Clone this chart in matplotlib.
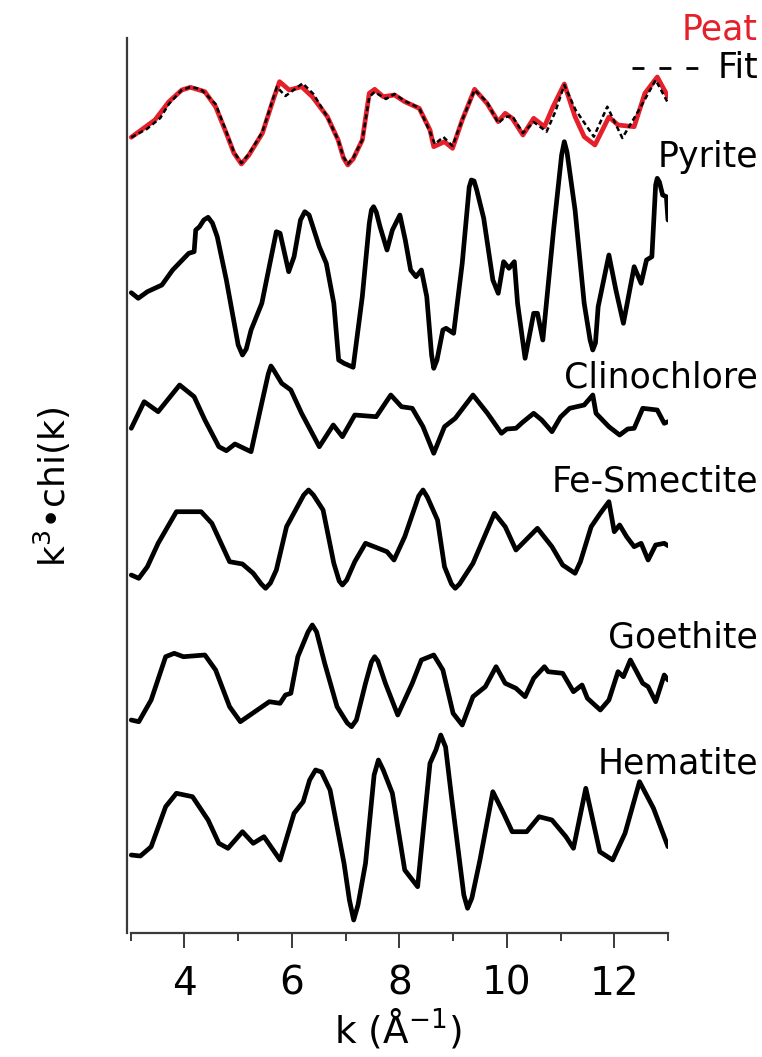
import numpy as np
import matplotlib
matplotlib.use("Agg")
import matplotlib.pyplot as plt
from matplotlib.lines import Line2D

# k (1/A) and k^3 chi(k) values (arbitrary units, relative to each trace's baseline)
peat_k = [3.01, 3.45, 3.71, 3.95, 4.11, 4.38, 4.58, 4.78, 4.92, 5.06, 5.2, 5.45, 5.65, 5.77, 5.95,
          6.18, 6.38, 6.66, 6.86, 6.96, 7.04, 7.14, 7.31, 7.44, 7.54, 7.7, 7.91, 8.1, 8.37, 8.57,
          8.64, 8.84, 8.99, 9.17, 9.4, 9.63, 9.84, 9.97, 10.1, 10.3, 10.5, 10.7, 10.86, 11.07,
          11.27, 11.44, 11.64, 11.9, 12.07, 12.37, 12.57, 12.8, 13.0]
peat_chi = [-1.73, 0.0, 1.83, 3.0, 3.27, 2.83, 1.33, -1.33, -3.3, -4.4, -3.5, -1.33, 2.0, 3.83, 3.0,
            3.33, 2.33, 0.33, -2.0, -3.8, -4.5, -3.9, -2.0, 2.67, 3.07, 2.33, 2.5, 1.83, 1.17, -1.0,
            -2.67, -2.17, -2.83, 0.0, 3.07, 1.67, -0.17, 0.67, 0.17, -1.5, 0.17, -0.67, 1.33, 3.6,
            0.33, -1.67, -2.5, 0.3, -0.5, -0.67, 2.67, 4.3, 2.33]

fit_k = [3.01, 3.3, 3.55, 3.71, 3.95, 4.11, 4.3, 4.58, 4.78, 4.92, 5.06, 5.2, 5.45, 5.72, 5.88,
         6.2, 6.4, 6.66, 6.86, 6.96, 7.04, 7.14, 7.31, 7.44, 7.54, 7.75, 7.91, 8.1, 8.37, 8.57,
         8.66, 8.82, 8.99, 9.17, 9.4, 9.63, 9.84, 9.97, 10.1, 10.3, 10.5, 10.74, 10.9, 11.07,
         11.28, 11.62, 11.87, 12.15, 12.46, 12.77, 13.0]
fit_chi = [-1.73, -0.9, 0.2, 1.6, 3.0, 3.3, 3.1, 1.6, -1.2, -3.2, -4.3, -3.4, -1.2, 3.3, 2.4,
           3.67, 2.6, 0.3, -2.0, -3.7, -4.4, -3.8, -2.0, 2.3, 2.8, 2.1, 2.6, 1.9, 1.2, -1.2,
           -2.4, -1.7, -2.6, 0.0, 3.0, 1.8, -0.3, 0.3, 0.4, -1.3, -0.2, -1.17, 0.8, 3.5,
           1.0, -1.67, 1.33, -1.8, 1.0, 4.0, 1.7]

pyrite_k = [3.01, 3.14, 3.31, 3.58, 3.78, 4.08, 4.18, 4.21, 4.28, 4.36, 4.44, 4.52, 4.61, 4.78,
            5.0, 5.08, 5.15, 5.24, 5.44, 5.71, 5.78, 5.94, 6.04, 6.16, 6.24, 6.32, 6.41, 6.51,
            6.64, 6.78, 6.87, 6.97, 7.14, 7.31, 7.44, 7.48, 7.52, 7.57, 7.64, 7.77, 7.87, 8.01,
            8.11, 8.21, 8.31, 8.41, 8.51, 8.6, 8.64, 8.7, 8.81, 8.87, 9.01, 9.17, 9.3, 9.34,
            9.39, 9.44, 9.57, 9.74, 9.84, 9.94, 10.04, 10.14, 10.2, 10.34, 10.5, 10.57, 10.67,
            10.87, 11.02, 11.07, 11.12, 11.27, 11.44, 11.55, 11.6, 11.65, 11.7, 11.9, 12.03,
            12.17, 12.37, 12.5, 12.6, 12.7, 12.77, 12.8, 12.84, 12.9, 12.97, 13.0]
pyrite_chi = [-1.27, -1.83, -1.17, -0.5, 1.0, 2.67, 2.83, 5.0, 5.33, 6.0, 6.27, 5.7, 4.33, 0.0,
              -6.5, -7.5, -6.9, -5.0, -2.33, 4.83, 4.67, 0.83, 2.33, 6.0, 6.83, 6.5, 5.0, 3.33,
              1.67, -2.33, -8.0, -8.33, -8.73, -1.67, 5.67, 7.0, 7.33, 6.8, 5.33, 3.0, 5.0, 6.5,
              4.0, 1.0, 0.33, 1.0, -1.67, -7.5, -8.83, -8.0, -5.0, -4.83, -5.33, 1.67, 9.3, 10.0,
              9.9, 9.0, 6.17, 0.0, -1.33, 1.83, 1.17, 1.83, -2.33, -7.83, -3.33, -3.33, -6.0,
              5.0, 12.5, 13.83, 12.8, 7.0, -2.33, -6.0, -7.0, -6.3, -2.67, 2.5, -1.0,
              -4.33, 1.33, -0.33, 2.0, 2.33, 9.5, 10.17, 9.8, 8.5, 8.33, 6.0]

clino_k = [3.01, 3.25, 3.51, 3.91, 4.18, 4.38, 4.64, 4.78, 4.94, 5.24, 5.41, 5.56, 5.61, 5.66,
           5.81, 5.98, 6.18, 6.51, 6.77, 6.94, 7.17, 7.57, 7.84, 8.04, 8.24, 8.44, 8.64, 8.84,
           9.04, 9.37, 9.64, 9.9, 10.0, 10.17, 10.3, 10.5, 10.65, 10.84, 11.0, 11.17, 11.44,
           11.6, 11.66, 11.9, 12.1, 12.25, 12.37, 12.53, 12.8, 12.93, 13.0]
clino_chi = [-0.83, 1.83, 0.83, 3.5, 2.33, 0.0, -2.67, -3.07, -2.4, -3.17, 1.0, 4.6, 5.4, 5.0,
             3.67, 3.0, 0.67, -2.67, -0.5, -1.67, 0.5, 0.33, 2.5, 1.33, 1.17, -0.67, -3.33, -0.67,
             0.17, 2.5, 0.67, -1.33, -0.9, -0.83, -0.2, 0.67, 0.0, -1.17, 0.3, 1.17, 1.5,
             2.5, 0.67, -0.67, -1.5, -0.9, -0.83, 1.17, 1.0, -0.33, -0.17]

smec_k = [3.01, 3.15, 3.31, 3.51, 3.85, 4.31, 4.51, 4.84, 5.08, 5.28, 5.43, 5.51, 5.6, 5.71,
          5.9, 6.22, 6.31, 6.4, 6.58, 6.78, 6.88, 6.94, 7.02, 7.17, 7.37, 7.77, 7.9, 8.1, 8.36,
          8.44, 8.52, 8.71, 8.84, 8.97, 9.04, 9.12, 9.37, 9.77, 9.97, 10.17, 10.57, 10.84,
          11.04, 11.27, 11.37, 11.57, 11.74, 11.9, 12.0, 12.1, 12.23, 12.37, 12.5, 12.63,
          12.77, 12.93, 13.0]
smec_chi = [-3.0, -3.33, -2.17, 0.17, 3.33, 3.33, 2.17, -1.67, -1.9, -2.83, -3.9, -4.33, -3.8,
            -2.5, 1.83, 5.0, 5.5, 5.0, 3.5, -1.83, -3.6, -4.0, -3.5, -1.67, 0.17, -0.67, -1.5,
            0.83, 4.9, 5.5, 4.8, 2.5, -2.17, -3.9, -4.33, -3.9, -1.83, 3.17, 1.83, -0.5, 1.67,
            -0.17, -2.0, -2.83, -1.67, 1.83, 3.17, 4.33, 1.33, 2.0, 0.83, -0.17, 0.17, -1.5,
            0.0, 0.17, -0.07]

goe_k = [3.01, 3.15, 3.38, 3.65, 3.81, 3.98, 4.38, 4.58, 4.84, 5.04, 5.31, 5.58, 5.78, 5.88,
         5.98, 6.11, 6.3, 6.38, 6.46, 6.61, 6.84, 7.03, 7.11, 7.2, 7.37, 7.48, 7.54, 7.6, 7.74,
         7.97, 8.24, 8.41, 8.64, 8.81, 9.0, 9.17, 9.37, 9.6, 9.8, 9.97, 10.17, 10.34, 10.5,
         10.7, 10.77, 11.04, 11.24, 11.4, 11.5, 11.74, 11.9, 12.07, 12.17, 12.3, 12.53, 12.63,
         12.77, 12.93, 13.0]
goe_chi = [-3.0, -3.17, -1.0, 3.33, 3.67, 3.33, 3.5, 2.0, -1.67, -3.17, -2.17, -1.17, -1.33, -0.5,
           -0.33, 3.33, 5.8, 6.5, 5.8, 2.67, -1.67, -3.3, -3.67, -3.0, 0.67, 2.8, 3.33, 2.9, 0.67,
           -2.5, 0.67, 3.0, 3.5, 2.0, -2.33, -3.5, -0.67, 0.33, 2.33, 0.67, 0.17, -0.67, 1.17,
           2.33, 1.83, 1.67, -0.17, 0.5, -0.83, -2.0, -1.0, 1.83, 1.33, 3.0, 0.67, 0.33,
           -1.17, 1.5, 1.0]

hem_k = [3.01, 3.18, 3.38, 3.65, 3.85, 4.15, 4.44, 4.64, 4.81, 5.08, 5.28, 5.48, 5.78, 6.04,
         6.21, 6.33, 6.44, 6.55, 6.71, 6.97, 7.07, 7.15, 7.23, 7.37, 7.53, 7.61, 7.7, 7.87, 8.1,
         8.34, 8.57, 8.68, 8.77, 8.86, 8.97, 9.2, 9.27, 9.35, 9.5, 9.74, 9.94, 10.1, 10.37,
         10.6, 10.84, 11.1, 11.24, 11.47, 11.73, 11.97, 12.2, 12.47, 12.73, 13.0]
hem_chi = [-1.5, -1.6, -0.67, 3.33, 4.67, 4.33, 2.0, -0.33, -0.83, 0.83, -0.33, 0.33, -2.0, 2.67,
           3.83, 6.0, 7.0, 6.8, 5.0, -2.33, -6.0, -8.0, -6.5, -2.33, 6.5, 8.0, 7.0, 4.67, -3.0,
           -4.67, 7.67, 9.0, 10.5, 9.3, 4.33, -5.5, -6.83, -5.8, -2.0, 4.83, 2.67, 0.83, 0.83,
           2.33, 2.0, 0.33, -0.83, 5.17, -1.17, -2.0, 0.67, 5.83, 3.17, -0.67]

names = ["Pyrite", "Clinochlore", "Fe-Smectite", "Goethite", "Hematite"]
offsets = [65.3, 51.3, 38.8, 24.3, 9.3]
peat_offset = 81.3

ref_k = [pyrite_k, clino_k, smec_k, goe_k, hem_k]
ref_chi = [pyrite_chi, clino_chi, smec_chi, goe_chi, hem_chi]

red = "#e5202b"
W, H = 762, 1057

fig = plt.figure(figsize=(W / 100, H / 100), dpi=100)
ax = fig.add_axes([126.7 / W, 1 - 933 / H, (668 - 126.7) / W, (933 - 38) / H])

ax.plot(peat_k, np.array(peat_chi) + peat_offset, color=red, lw=3.4,
        solid_joinstyle="round", solid_capstyle="round")
ax.plot(fit_k, np.array(fit_chi) + peat_offset, color="black", lw=1.8,
        dashes=(2.0, 1.3), dash_joinstyle="round")
for kk, cc, off in zip(ref_k, ref_chi, offsets):
    ax.plot(kk, np.array(cc) + off, color="black", lw=3.4,
            solid_joinstyle="round", solid_capstyle="round")

ax.set_xlim(2.925, 13.0)
ax.set_ylim(0, 89.5)
ax.set_xticks([4, 6, 8, 10, 12])
ax.set_xticks([3, 5, 7, 9, 11, 13], minor=True)
ax.set_yticks([])
for s in ["top", "right"]:
    ax.spines[s].set_visible(False)
ax.spines["bottom"].set_bounds(3, 13)
for s in ["left", "bottom"]:
    ax.spines[s].set_color("#3a3a3a")
    ax.spines[s].set_linewidth(1.6)
ax.tick_params(axis="x", which="major", direction="out", length=10.8, width=1.4,
               color="#3a3a3a", labelsize=28, pad=12)
ax.tick_params(axis="x", which="minor", direction="out", length=5.8, width=1.4, color="#3a3a3a")
ax.set_xlabel(r"k (Å$^{-1}$)", fontsize=27, labelpad=3)

fig.text(52 / W, 1 - 487 / H, r"k$^3$•chi(k)", rotation=90, fontsize=26,
         ha="center", va="center")

# trace labels on the right
label_base = [167, 388, 492, 647, 773]
for name, yb in zip(names, label_base):
    fig.text(758 / W, 1 - yb / H, name, fontsize=25, ha="right", va="baseline")
fig.text(758 / W, 1 - 40 / H, "Peat", fontsize=25, color=red, ha="right", va="baseline")
fig.text(758 / W, 1 - 78 / H, "Fit", fontsize=25, ha="right", va="baseline")
fig.add_artist(Line2D([632 / W, 698 / W], [1 - 68 / H, 1 - 68 / H], transform=fig.transFigure,
                      color="black", lw=2.0, dashes=(4.3, 5.4)))

fig.savefig("out.png", dpi=100)
